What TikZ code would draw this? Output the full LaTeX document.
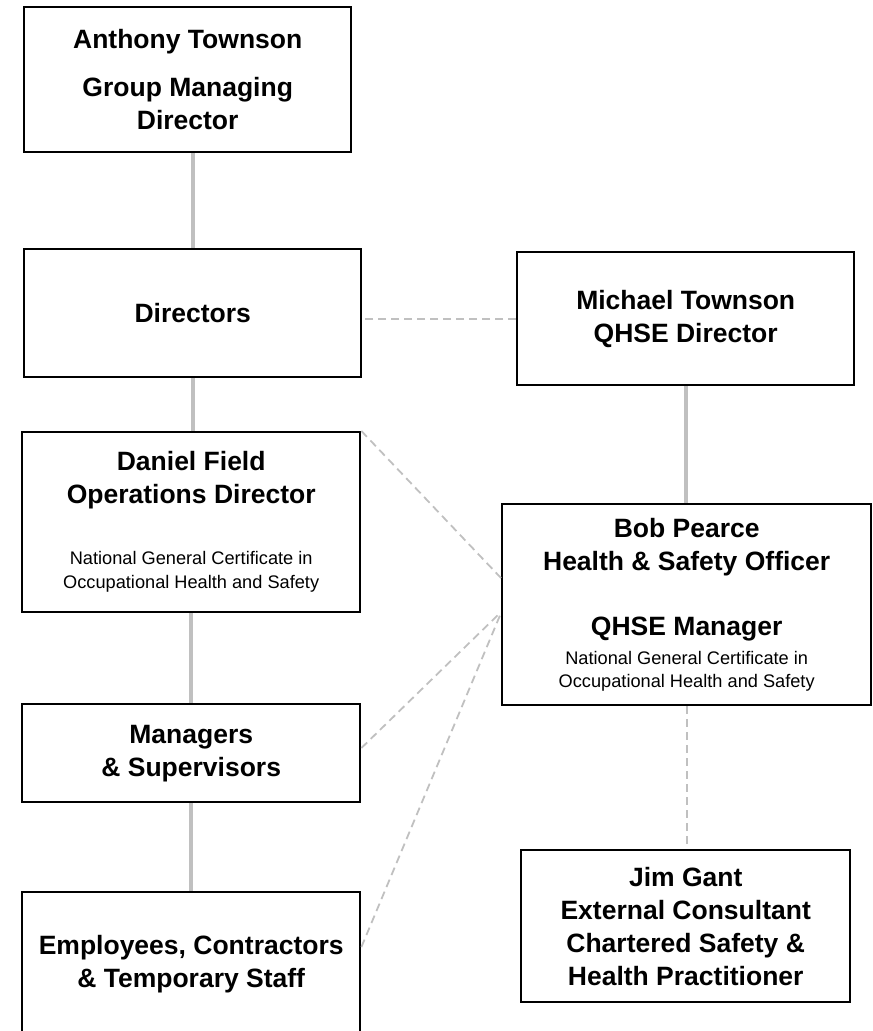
\documentclass[tikz,border=0pt]{standalone}
\usepackage{fontspec}
\setmainfont{Liberation Sans}
\usetikzlibrary{calc}
\definecolor{linkgray}{RGB}{192,192,192}
\newcommand{\cert}{\fontsize{9.1}{11.5}\selectfont\mdseries}

\begin{document}
\begin{tikzpicture}[
		x=0.5pt,y=-0.5pt,
		box/.style n args={2}{draw=black,line width=1.2pt,inner sep=0pt,anchor=north west,
			align=center,node font=\fontsize{13.25}{16.5}\selectfont\bfseries,
			minimum width=#1*0.5pt,minimum height=#2*0.5pt},
		reports/.style={draw=linkgray,line width=2pt},
		advises/.style={draw=linkgray,line width=0.9pt,dash pattern=on 4pt off 2.5pt}
	]
	\useasboundingbox (0,0) rectangle (872,1031);
	% left column
	\node[box={327}{145}] (GroupMD)     at (23,6)   {Anthony Townson\\[7.5pt] Group Managing\\ Director};
	\node[box={337}{128}] (Directors)   at (23,248) {Directors};
	\node[box={338}{180}] (OpsDirector) at (21,431) {Daniel Field\\ Operations Director\\[14pt]
		\cert National General Certificate in\\[-4.5pt]
		\cert Occupational Health and Safety};
	\node[box={338}{98}]  (Managers)    at (21,703) {Managers\\ \& Supervisors};
	\node[box={338}{144}] (Staff)       at (21,891) {Employees, Contractors\\ \& Temporary Staff};
	% right column
	\node[box={337}{133}] (QHSEDirector) at (516,251) {Michael Townson\\ QHSE Director};
	\node[box={369}{201}] (HSOfficer)    at (501,503) {Bob Pearce\\ Health \& Safety Officer\\[16pt]
		QHSE Manager\\[-2pt]
		\cert National General Certificate in\\[-5pt]
		\cert Occupational Health and Safety};
	\node[box={329}{152}] (Consultant)   at (520,849) {Jim Gant\\ External Consultant\\
		Chartered Safety \&\\ Health Practitioner};
	%
	\draw[reports] (Directors.north) -- (Directors.north |- GroupMD.south);
	\draw[reports] (Directors.south) -- (Directors.south |- OpsDirector.north);
	\draw[reports] (OpsDirector.south) -- (Managers.north);
	\draw[reports] (Managers.south) -- (Staff.north);
	\draw[reports] (QHSEDirector.south) -- (QHSEDirector.south |- HSOfficer.north);
	\draw[advises] (QHSEDirector.west) -- (QHSEDirector.west -| Directors.east);
	\draw[advises] (HSOfficer.south) -- (HSOfficer.south |- Consultant.north);
	\draw[advises] (OpsDirector.north east) -- ($ (HSOfficer.north west) + (0,75) $);
	\draw[advises] ($ (Managers.north east) + (0,45) $) -- ($ (HSOfficer.north west) + (0,109) $);
	\draw[advises] ($ (Staff.north east) + (0,56) $) -- ($ (HSOfficer.north west) + (0,110) $);
\end{tikzpicture}
\end{document}
